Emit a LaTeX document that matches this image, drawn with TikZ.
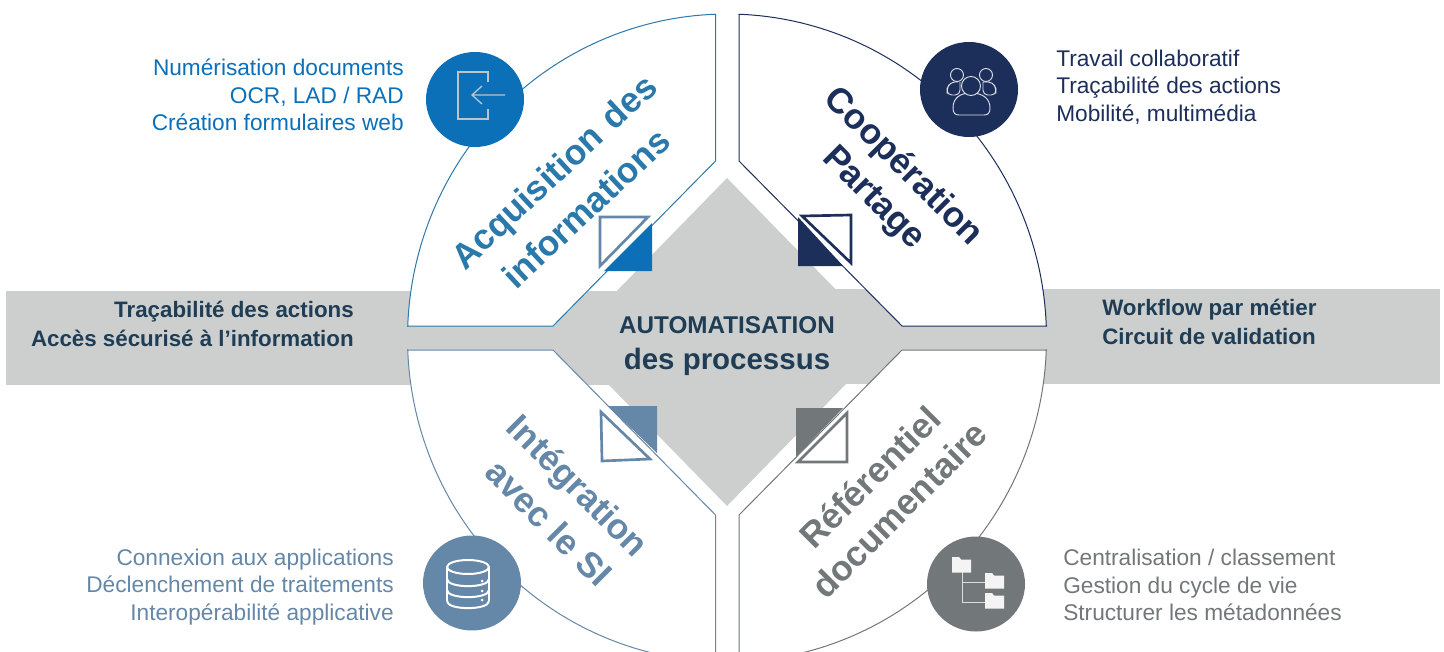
\documentclass[tikz,border=0pt]{standalone}
\usepackage{fontspec}
\usetikzlibrary{shapes.geometric}
\setmainfont{Liberation Sans}
\definecolor{cband}{HTML}{CDCFCF}
\definecolor{cblue}{HTML}{0B70B8}
\definecolor{ctitle}{HTML}{2B79AA}
\definecolor{cnavy}{HTML}{1C2E5A}
\definecolor{csteel}{HTML}{6587A8}
\definecolor{cgray}{HTML}{72777A}
\definecolor{cdark}{HTML}{1F3D55}
\definecolor{cicon}{HTML}{B9C4CE}
\tikzset{
  item/.style={inner sep=0pt,font=\fontsize{17}{20}\selectfont},
  bandtext/.style={inner sep=0pt,text=cdark,font=\fontsize{16.75}{20}\bfseries\selectfont},
  sectitle/.style={inner sep=0pt,font=\fontsize{26.5}{30}\bfseries\selectfont},
  disc/.style={ellipse,inner sep=0pt,minimum width=73.5pt,minimum height=71.25pt},
  sector/.style={fill=white,line width=0.75pt,line join=miter},
  triline/.style={fill=white,line width=2pt,line join=miter},
}
\begin{document}
\begin{tikzpicture}[x=0.75pt,y=-0.75pt]
\useasboundingbox (0,0) rectangle (1444,652);
\clip (0,0) rectangle (1444,652);
% bands and diamond
\fill[cband] (6,291) rectangle (720,385);
\fill[cband] (720,289) rectangle (1440,384);
\fill[cband] (727,178) -- (887,342) -- (727,506) -- (567,342) -- cycle;
% sectors
\draw[sector,draw=ctitle] (715.5,14) -- (715.5,161) -- (553,326) -- (408,326) --
  plot[domain=177.9:92.06,samples=70] ({727+319.5*cos(\x)},{338-324*sin(\x)}) -- cycle;
\draw[sector,draw=cnavy] (739,14) -- (739,161) -- (902,326) -- (1047,326) --
  plot[domain=2.1:87.85,samples=70] ({727+319.5*cos(\x)},{338-324*sin(\x)}) -- cycle;
\draw[sector,draw=csteel] (715.5,661) -- (715.5,515) -- (553,350) -- (408,350) --
  plot[domain=182.1:267.94,samples=70] ({727+319.5*cos(\x)},{338-324*sin(\x)}) -- cycle;
\draw[sector,draw=cgray] (739,661) -- (739,515) -- (902,350) -- (1047,350) --
  plot[domain=-2.1:-87.85,samples=70] ({727+319.5*cos(\x)},{338-324*sin(\x)}) -- cycle;
% corner triangles
\fill[cblue] (652,223) -- (652,271) -- (604,271) -- cycle;
\draw[triline,draw=csteel] (600,217) -- (648,217) -- (600,266) -- cycle;
\fill[cnavy] (798,217) -- (798,266) -- (843,266) -- cycle;
\draw[triline,draw=cnavy] (802,216) -- (851,215) -- (851,263) -- cycle;
\fill[csteel] (608,406) -- (657,406) -- (657,453) -- cycle;
\draw[triline,draw=csteel] (601,412) -- (602,461) -- (650,459) -- cycle;
\fill[cgray] (796,408) -- (843,408) -- (796,457) -- cycle;
\draw[triline,draw=cgray] (847,413) -- (847,462) -- (798,462) -- cycle;
% discs
\node[disc,fill=cblue] (d1) at (475,99.5) {};
\node[disc,fill=cnavy] (d2) at (969,89.5) {};
\node[disc,fill=csteel] (d3) at (472,583) {};
\node[disc,fill=cgray] (d4) at (976,584) {};
% icon: entry
\draw[cicon,line width=1.3pt] (488,82) -- (488,72) -- (458,72) -- (458,119) -- (488,119) -- (488,109);
\draw[cicon,line width=1pt] (505,95) -- (472,95) (482,86) -- (472,95) -- (482,104);
% icon: people
\begin{scope}[draw=white!85!cnavy,line width=0.7pt,fill=cnavy]
\draw (957,75) circle (6.5);
\draw (986,75) circle (6.5);
\draw[rounded corners=3.5pt] (958,82) -- (950,82) -- (947,89) -- (947,95) -- (960,95) -- (960,82);
\draw[rounded corners=3.5pt] (983,82) -- (993,82) -- (996,89) -- (996,95) -- (983,95) -- (983,82);
\draw[fill=cnavy] (953,108) .. controls (953,98) and (960,93) .. (971,93) .. controls (982,93) and (990,98) .. (990,108)
  .. controls (990,113) and (988,115) .. (984,115) -- (959,115) .. controls (955,115) and (953,113) .. (953,108) -- cycle;
\draw[fill=cnavy] (971,86) circle (9.5);
\end{scope}
% icon: database
\begin{scope}[white,line width=1.5pt]
\draw (468,567) ellipse (21 and 7);
\draw (447,567) -- (447,601) (489,567) -- (489,601);
\foreach \y in {579,590,601}
  \draw (447,\y) .. controls (447,\y+9.5) and (489,\y+9.5) .. (489,\y);
\foreach \y in {581,591,600}
  \fill (482,\y) circle (1.5);
\end{scope}
% icon: folders
\draw[white!75!cgray,line width=0.7pt] (962,572) -- (962,602) -- (985,602) (962,582) -- (985,582);
\foreach \xa/\ya in {952/557,985/573,985/593}
  \fill[white!92!cgray] (\xa,\ya) -- (\xa+7,\ya) -- (\xa+9,\ya+2.5) -- (\xa+19,\ya+2.5) -- (\xa+19,\ya+15.5) -- (\xa,\ya+15.5) -- cycle;
% section titles
\node[sectitle,text=ctitle,rotate=43] (t1a) at (556,174) {Acquisition\kern2pt\ des};
\node[sectitle,text=ctitle,rotate=43] (t1b) at (586,208) {informations};
\node[sectitle,text=cnavy,rotate=-45] (t2a) at (903,167) {Coopération};
\node[sectitle,text=cnavy,rotate=-45] (t2b) at (873,199) {Partage};
\node[sectitle,text=csteel,rotate=-45] (t3a) at (576,488) {Intégration};
\node[sectitle,text=csteel,rotate=-45] (t3b) at (549,523) {avec le SI};
\node[sectitle,text=cgray,rotate=45] (t4a) at (870,477) {Référentiel};
\node[sectitle,text=cgray,rotate=45] (t4b) at (899,510) {documentaire};
% lists
\node[item,text=cblue,anchor=mid east] (l11) at (404,71.5) {Numérisation documents};
\node[item,text=cblue,anchor=mid east] (l12) at (404,99.5) {OCR, LAD / RAD};
\node[item,text=cblue,anchor=mid east] (l13) at (404,126.5) {Création formulaires web};
\node[item,text=cnavy,anchor=mid west] (l21) at (1056,62.5) {Travail collaboratif};
\node[item,text=cnavy,anchor=mid west] (l22) at (1056,89.5) {Traçabilité des actions};
\node[item,text=cnavy,anchor=mid west] (l23) at (1056,117.5) {Mobilité, multimédia};
\node[item,text=csteel,anchor=mid east] (l31) at (394,561.5) {Connexion aux applications};
\node[item,text=csteel,anchor=mid east] (l32) at (394,588.5) {Déclenchement de traitements};
\node[item,text=csteel,anchor=mid east] (l33) at (394,616.5) {Interopérabilité applicative};
\node[item,text=cgray,anchor=mid west] (l41) at (1063,561.5) {Centralisation / classement};
\node[item,text=cgray,anchor=mid west] (l42) at (1063,589.5) {Gestion du cycle de vie};
\node[item,text=cgray,anchor=mid west] (l43) at (1063,616.5) {Structurer les métadonnées};
% band texts
\node[bandtext,anchor=mid east] (b1) at (354,314) {Traçabilité des actions};
\node[bandtext,anchor=mid east] (b2) at (354,342.5) {Accès sécurisé à l’information};
\node[bandtext,anchor=mid west] (b3) at (1102,312) {Workflow par métier};
\node[bandtext,anchor=mid west] (b4) at (1102,340.5) {Circuit de validation};
% centre
\node[inner sep=0pt,text=cdark,font=\fontsize{18.2}{20}\bfseries\selectfont] (c1) at (727,325) {AUTOMATISATION};
\node[inner sep=0pt,text=cdark,font=\fontsize{22.1}{24}\bfseries\selectfont] (c2) at (727,362) {des processus};
\end{tikzpicture}
\end{document}
